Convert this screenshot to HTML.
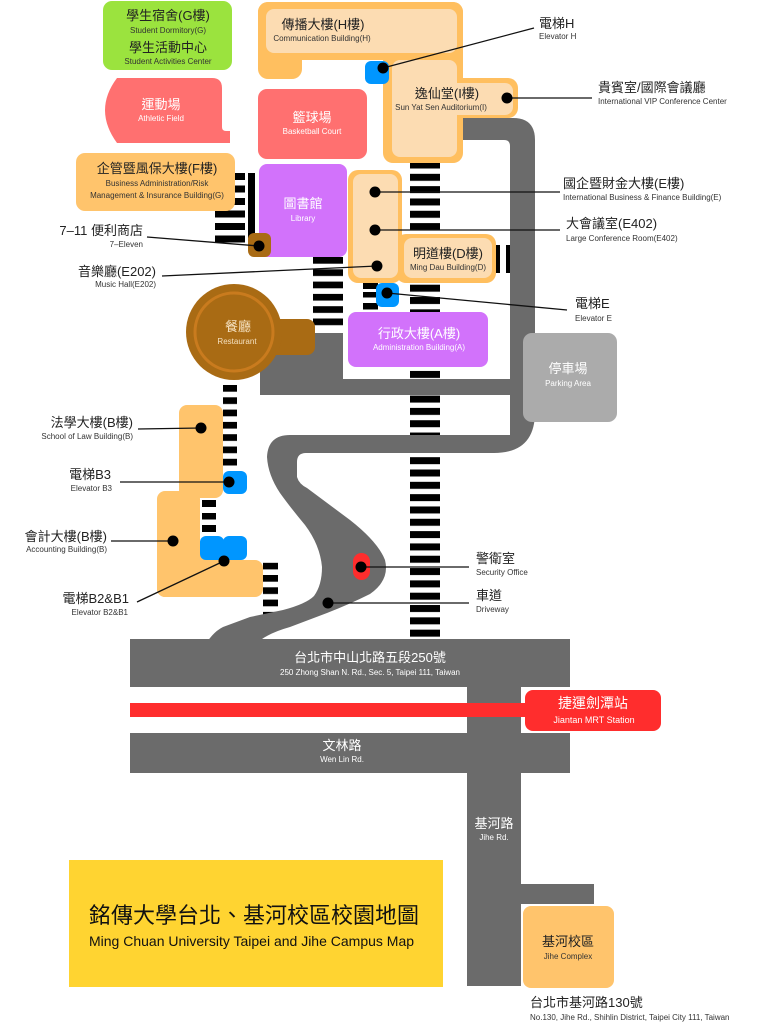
<!DOCTYPE html>
<html><head><meta charset="utf-8"><style>
html,body{margin:0;padding:0;background:#fff;}
svg{display:block;}
text{font-family:"Liberation Sans","Noto Sans CJK TC",sans-serif;}
.c{font-size:13px;fill:#222;}
.e{font-size:8px;fill:#333;}
.w{fill:#fff;}
</style></head><body>
<svg width="768" height="1027" viewBox="0 0 768 1027" xmlns="http://www.w3.org/2000/svg">
<defs>
<pattern id="pc" x="0" y="161.5" width="60" height="12.32" patternUnits="userSpaceOnUse"><rect width="60" height="7" fill="#000"/></pattern>
<pattern id="p1" x="0" y="173" width="60" height="12.5" patternUnits="userSpaceOnUse"><rect width="60" height="7" fill="#000"/></pattern>
<pattern id="p2" x="0" y="257" width="60" height="12.3" patternUnits="userSpaceOnUse"><rect width="60" height="6.7" fill="#000"/></pattern>
<pattern id="p5" x="0" y="385" width="60" height="12.3" patternUnits="userSpaceOnUse"><rect width="60" height="6.7" fill="#000"/></pattern>
<pattern id="p7" x="0" y="562.7" width="60" height="12.3" patternUnits="userSpaceOnUse"><rect width="60" height="6.7" fill="#000"/></pattern>
</defs>
<rect width="768" height="1027" fill="#fff"/>

<!-- crosswalks -->
<rect x="410" y="161.5" width="30" height="476" fill="url(#pc)"/>
<rect x="215" y="173" width="30" height="70" fill="url(#p1)"/>
<rect x="248" y="173" width="7" height="65" fill="#000"/>
<rect x="313" y="257" width="30" height="69" fill="url(#p2)"/>
<rect x="363" y="283" width="15" height="6" fill="#000"/>
<rect x="363" y="292" width="15" height="5.5" fill="#000"/>
<rect x="363" y="303" width="15" height="6.5" fill="#000"/>
<rect x="496" y="245" width="4" height="28" fill="#000"/>
<rect x="506" y="245" width="4" height="28" fill="#000"/>
<rect x="223" y="385" width="14" height="81" fill="url(#p5)"/>
<rect x="202" y="500" width="14" height="7" fill="#000"/>
<rect x="202" y="513" width="14" height="6.5" fill="#000"/>
<rect x="202" y="525" width="14" height="7" fill="#000"/>
<rect x="263" y="562.7" width="15" height="55" fill="url(#p7)"/>

<!-- campus roads -->
<g fill="#6b6b6b">
<rect x="260" y="333" width="83" height="62"/>
<rect x="260" y="379" width="260" height="16"/>
<path d="M290,435 L510,435 L510,146 Q510,140 504,140 L455,140 L455,118 L513,118 Q535,118 535,140 L535,412 Q535,453 494,453 L306,453 Q297,453 297,462 L297,477 Q299,484 307,488 L350,520 Q378,542 385,560 Q390,580 370,594 Q350,604 327,613 L290,627 Q265,634 255,645 L205,645 Q213,632 223,627 L250,617 L283,610 Q306,604 314,596 Q322,585 322,567 Q320,545 305,525 Q290,507 280,493 Q268,475 267,457 Q268,435 290,435 Z"/>
</g>

<!-- main roads -->
<g fill="#6b6b6b">
<rect x="130" y="639" width="440" height="48"/>
<rect x="130" y="733" width="440" height="40"/>
<rect x="467" y="686" width="54" height="300"/>
<rect x="520" y="884" width="74" height="20"/>
</g>
<rect x="130" y="703" width="398" height="14" fill="#ff2d2d"/>
<rect x="525" y="690" width="136" height="41" rx="8" fill="#ff2d2d"/>

<!-- green dorm -->
<rect x="103" y="1" width="129" height="69" rx="9" fill="#9be33e"/>
<!-- athletic field -->
<path d="M117,78 L212,78 Q222,78 222,88 L222,127 Q222,131 226,131 L230,131 L230,143 L117,143 Q93,110 117,78 Z" fill="#ff7070"/>
<!-- business admin -->
<rect x="76" y="153" width="159" height="58" rx="9" fill="#ffc46c"/>

<!-- H / I buildings -->
<g fill="#ffbf5f">
<rect x="258" y="2" width="205" height="58" rx="10"/>
<rect x="258" y="2" width="44" height="77" rx="10"/>
<rect x="383" y="2" width="80" height="161" rx="10"/>
<rect x="383" y="78" width="135" height="40" rx="10"/>
</g>
<g fill="#fcdcb2">
<rect x="266" y="9" width="191" height="44" rx="8"/>
<rect x="392" y="60" width="65" height="97" rx="8"/>
<rect x="392" y="83" width="121" height="32" rx="8"/>
</g>
<rect x="365" y="61" width="24" height="23" rx="6" fill="#0096ff"/>

<!-- basketball -->
<rect x="258" y="89" width="109" height="70" rx="9" fill="#ff7070"/>

<!-- library -->
<rect x="259" y="164" width="88" height="93" rx="8" fill="#d272fb"/>
<!-- 7-11 -->
<rect x="248" y="233" width="23" height="24" rx="6" fill="#a96b14"/>

<!-- E / D buildings -->
<g fill="#ffbf5f">
<rect x="348" y="170" width="54" height="113" rx="10"/>
<rect x="396" y="234" width="100" height="49" rx="10"/>
</g>
<g fill="#fcdcb2">
<rect x="353" y="174" width="45" height="104" rx="8"/>
<rect x="404" y="238" width="88" height="40" rx="8"/>
</g>
<rect x="376" y="283" width="23" height="24" rx="6" fill="#0096ff"/>

<!-- admin -->
<rect x="348" y="312" width="140" height="55" rx="8" fill="#d272fb"/>

<!-- restaurant -->
<rect x="234" y="319" width="81" height="36" rx="8" fill="#a96b14"/>
<circle cx="234" cy="332" r="48" fill="#a96b14"/>
<circle cx="234" cy="332" r="39" fill="none" stroke="#c97b1e" stroke-width="3"/>

<!-- parking -->
<rect x="523" y="333" width="94" height="89" rx="9" fill="#ababab"/>

<!-- law & accounting -->
<g fill="#ffc46c">
<rect x="179" y="405" width="44" height="93" rx="8"/>
<rect x="157" y="491" width="43" height="106" rx="8"/>
<rect x="157" y="560" width="106" height="37" rx="8"/>
<rect x="190" y="545" width="40" height="20"/>
</g>
<rect x="223" y="471" width="24" height="23" rx="6" fill="#0096ff"/>
<rect x="200" y="536" width="24" height="24" rx="6" fill="#0096ff"/>
<rect x="223" y="536" width="24" height="24" rx="6" fill="#0096ff"/>

<!-- security -->
<rect x="353" y="553" width="17" height="27" rx="8.5" fill="#ff2d2d"/>

<!-- jihe complex -->
<rect x="523" y="906" width="91" height="82" rx="8" fill="#ffc46c"/>

<!-- title -->
<rect x="69" y="860" width="374" height="127" fill="#ffd431"/>

<!-- leader lines -->
<g stroke="#111" stroke-width="1.3" fill="none">
<line x1="383" y1="68" x2="534" y2="28"/>
<line x1="507" y1="98" x2="592" y2="98"/>
<line x1="375" y1="192" x2="560" y2="192"/>
<line x1="375" y1="230" x2="560" y2="230"/>
<line x1="377" y1="266" x2="162" y2="276"/>
<line x1="259" y1="246" x2="147" y2="237"/>
<line x1="387" y1="293" x2="567" y2="310"/>
<line x1="201" y1="428" x2="138" y2="429"/>
<line x1="229" y1="482" x2="120" y2="482"/>
<line x1="173" y1="541" x2="111" y2="541"/>
<line x1="224" y1="561" x2="137" y2="602"/>
<line x1="361" y1="567" x2="469" y2="567"/>
<line x1="328" y1="603" x2="469" y2="603"/>
</g>
<g fill="#000">
<circle cx="383" cy="68" r="5.5"/>
<circle cx="507" cy="98" r="5.5"/>
<circle cx="375" cy="192" r="5.5"/>
<circle cx="375" cy="230" r="5.5"/>
<circle cx="377" cy="266" r="5.5"/>
<circle cx="259" cy="246" r="5.5"/>
<circle cx="387" cy="293" r="5.5"/>
<circle cx="201" cy="428" r="5.5"/>
<circle cx="229" cy="482" r="5.5"/>
<circle cx="173" cy="541" r="5.5"/>
<circle cx="224" cy="561" r="5.5"/>
<circle cx="361" cy="567" r="5.5"/>
<circle cx="328" cy="603" r="5.5"/>
</g>

<!-- building labels -->
<g text-anchor="middle">
<text x="168" y="20" class="c">學生宿舍(G樓)</text>
<text x="168" y="33" class="e">Student Dormitory(G)</text>
<text x="168" y="52" class="c">學生活動中心</text>
<text x="168" y="64" class="e">Student Activities Center</text>

<text x="161" y="109" class="c w">運動場</text>
<text x="161" y="121" class="e w">Athletic Field</text>

<text x="323" y="29" class="c">傳播大樓(H樓)</text>
<text x="322" y="41" class="e">Communication Building(H)</text>

<text x="447" y="98" class="c">逸仙堂(I樓)</text>
<text x="441" y="110" class="e">Sun Yat Sen Auditorium(I)</text>

<text x="312" y="122" class="c w">籃球場</text>
<text x="312" y="134" class="e w">Basketball Court</text>

<text x="157" y="173" class="c">企管暨風保大樓(F樓)</text>
<text x="157" y="186" class="e">Business Administration/Risk</text>
<text x="157" y="198" class="e">Management &amp; Insurance Building(G)</text>

<text x="303" y="208" class="c w">圖書館</text>
<text x="303" y="221" class="e w">Library</text>

<text x="448" y="258" class="c">明道樓(D樓)</text>
<text x="448" y="270" class="e">Ming Dau Building(D)</text>

<text x="419" y="338" class="c w">行政大樓(A樓)</text>
<text x="419" y="350" class="e w">Administration Building(A)</text>

<text x="238" y="331" class="c" style="fill:#f5e1c0">餐廳</text>
<text x="237" y="344" class="e" style="fill:#f5e1c0">Restaurant</text>

<text x="568" y="373" class="c w">停車場</text>
<text x="568" y="386" class="e w">Parking Area</text>

<text x="593" y="708" style="font-size:14px;fill:#fff">捷運劍潭站</text>
<text x="594" y="723" style="font-size:9px;fill:#fff">Jiantan MRT Station</text>

<text x="370" y="662" class="c w">台北市中山北路五段250號</text>
<text x="370" y="675" class="e w">250 Zhong Shan N. Rd., Sec. 5, Taipei 111, Taiwan</text>

<text x="342" y="750" class="c w">文林路</text>
<text x="342" y="762" class="e w">Wen Lin Rd.</text>

<text x="494" y="828" class="c w">基河路</text>
<text x="494" y="840" class="e w">Jihe Rd.</text>

<text x="568" y="946" class="c">基河校區</text>
<text x="568" y="959" class="e">Jihe Complex</text>
</g>

<!-- right labels -->
<g text-anchor="start">
<text x="539" y="28" class="c">電梯H</text>
<text x="539" y="39" class="e">Elevator H</text>
<text x="598" y="92" class="c">貴賓室/國際會議廳</text>
<text x="598" y="104" class="e">International VIP Conference Center</text>
<text x="563" y="188" class="c">國企暨財金大樓(E樓)</text>
<text x="563" y="200" class="e">International Business &amp; Finance Building(E)</text>
<text x="566" y="228" class="c">大會議室(E402)</text>
<text x="566" y="241" class="e">Large Conference Room(E402)</text>
<text x="575" y="308" class="c">電梯E</text>
<text x="575" y="321" class="e">Elevator E</text>
<text x="476" y="563" class="c">警衛室</text>
<text x="476" y="575" class="e">Security Office</text>
<text x="476" y="600" class="c">車道</text>
<text x="476" y="612" class="e">Driveway</text>
<text x="530" y="1007" class="c">台北市基河路130號</text>
<text x="530" y="1020" class="e">No.130, Jihe Rd., Shihlin District, Taipei City 111, Taiwan</text>
</g>

<!-- left labels -->
<g text-anchor="end">
<text x="143" y="235" class="c">7–11 便利商店</text>
<text x="143" y="247" class="e">7–Eleven</text>
<text x="156" y="276" class="c">音樂廳(E202)</text>
<text x="156" y="287" class="e">Music Hall(E202)</text>
<text x="133" y="427" class="c">法學大樓(B樓)</text>
<text x="133" y="439" class="e">School of Law Building(B)</text>
<text x="111" y="479" class="c">電梯B3</text>
<text x="112" y="491" class="e">Elevator B3</text>
<text x="107" y="541" class="c">會計大樓(B樓)</text>
<text x="107" y="552" class="e">Accounting Building(B)</text>
<text x="129" y="603" class="c">電梯B2&amp;B1</text>
<text x="128" y="615" class="e">Elevator B2&amp;B1</text>
</g>

<!-- title -->
<text x="89" y="923" style="font-size:22px;fill:#111">銘傳大學台北、基河校區校園地圖</text>
<text x="89" y="946" style="font-size:14px;fill:#111">Ming Chuan University Taipei and Jihe Campus Map</text>
</svg>
</body></html>
